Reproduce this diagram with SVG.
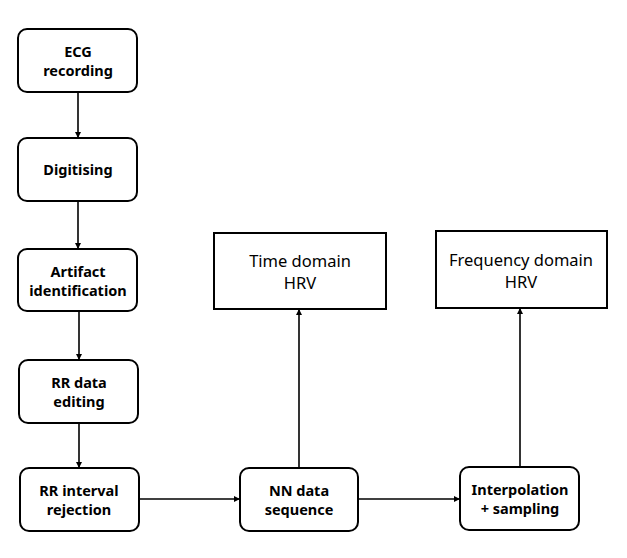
<svg xmlns="http://www.w3.org/2000/svg" width="627" height="558" viewBox="0 0 627 558">
<style>
.rnd{fill:#fff;stroke:#000;stroke-width:2}
.sq{fill:#fff;stroke:#000;stroke-width:2}
.b{font-family:"Noto Sans","Open Sans","DejaVu Sans",sans-serif;font-weight:bold;font-size:14.5px;text-anchor:middle;fill:#000}
.r{font-family:"Noto Sans","Open Sans","DejaVu Sans",sans-serif;font-size:16.5px;text-anchor:middle;fill:#000}
.c{stroke:#000;stroke-width:1.6;fill:none;marker-end:url(#ah)}
</style>
<defs>
<marker id="ah" viewBox="0 0 10 10" refX="10" refY="5" markerWidth="6" markerHeight="6" markerUnits="userSpaceOnUse" orient="auto">
<path d="M0,0 L10,5 L0,10 z" fill="#000"/>
</marker>
</defs>
<rect width="627" height="558" fill="#fff"/>
<g id="connectors">
<line class="c" x1="78" y1="92" x2="78" y2="138"/>
<line class="c" x1="78" y1="201" x2="78" y2="249"/>
<line class="c" x1="79" y1="311" x2="79" y2="360"/>
<line class="c" x1="79" y1="423" x2="79" y2="468"/>
<line class="c" x1="139" y1="499" x2="240" y2="499"/>
<line class="c" x1="358" y1="499" x2="460" y2="499"/>
<line class="c" x1="299" y1="468" x2="299" y2="309"/>
<line class="c" x1="520" y1="467" x2="520" y2="308"/>
</g>
<g id="ecg">
<rect class="rnd" x="18" y="29" width="119" height="63" rx="9"/>
<text class="b" x="78" y="57">ECG</text>
<text class="b" x="78" y="76">recording</text>
</g>
<g id="digitising">
<rect class="rnd" x="18" y="138" width="119" height="63" rx="9"/>
<text class="b" x="78" y="175">Digitising</text>
</g>
<g id="artifact">
<rect class="rnd" x="18" y="249" width="119" height="62" rx="9"/>
<text class="b" x="78" y="277">Artifact</text>
<text class="b" x="78" y="296">identification</text>
</g>
<g id="rredit">
<rect class="rnd" x="19" y="360" width="119" height="63" rx="9"/>
<text class="b" x="79" y="388">RR data</text>
<text class="b" x="79" y="407">editing</text>
</g>
<g id="rrreject">
<rect class="rnd" x="20" y="468" width="119" height="63" rx="9"/>
<text class="b" x="79" y="496">RR interval</text>
<text class="b" x="79" y="515">rejection</text>
</g>
<g id="nn">
<rect class="rnd" x="240" y="468" width="118" height="63" rx="9"/>
<text class="b" x="299" y="496">NN data</text>
<text class="b" x="299" y="515">sequence</text>
</g>
<g id="interp">
<rect class="rnd" x="460" y="467" width="119" height="63" rx="9"/>
<text class="b" x="520" y="495">Interpolation</text>
<text class="b" x="520" y="514">+  sampling</text>
</g>
<g id="timedomain">
<rect class="sq" x="214" y="233" width="172" height="76"/>
<text class="r" x="300" y="267">Time domain</text>
<text class="r" x="300" y="289">HRV</text>
</g>
<g id="freqdomain">
<rect class="sq" x="436" y="231" width="171" height="77"/>
<text class="r" x="521" y="266">Frequency domain</text>
<text class="r" x="521" y="288">HRV</text>
</g>
</svg>
